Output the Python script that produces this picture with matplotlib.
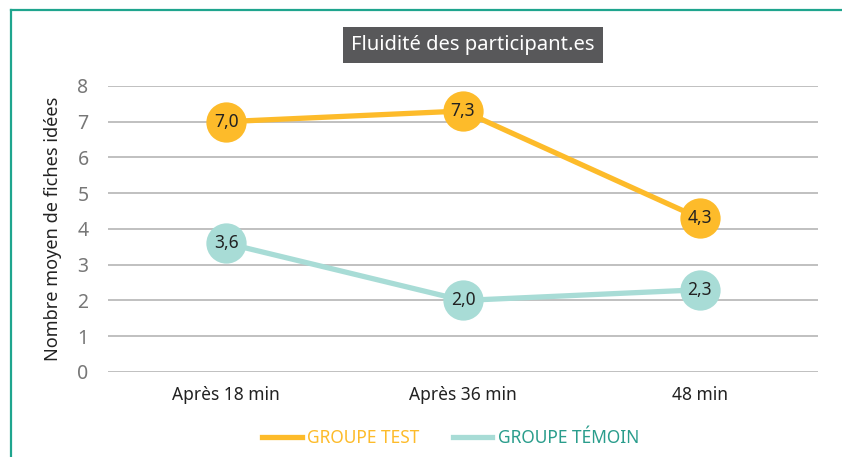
import matplotlib.pyplot as plt
from matplotlib.lines import Line2D

plt.rcParams["font.family"] = ["Noto Sans", "DejaVu Sans"]

# data
periods = ["Après 18 min", "Après 36 min", "48 min"]
groupe_test = [7.0, 7.3, 4.3]
groupe_temoin = [3.6, 2.0, 2.3]
yticks = [0, 1, 2, 3, 4, 5, 6, 7, 8]

ORANGE = "#FDBB2A"
TEAL = "#A8DCD6"
TEAL_TEXT = "#2A9D8C"
FRAME = "#1FA58E"

fig = plt.figure(figsize=(8.42, 4.57), dpi=100)
ax = fig.add_axes([0.1283, 0.186, 0.8432, 0.626])

x = list(range(len(periods)))
for values, color in [(groupe_test, ORANGE), (groupe_temoin, TEAL)]:
    ax.plot(x, values, color=color, lw=3.8, solid_capstyle="butt", zorder=3)
    ax.plot(x, values, "o", color=color, ms=29, mec="none", zorder=4)
    for xi, v in zip(x, values):
        ax.text(xi, v, f"{v:.1f}".replace(".", ","), ha="center", va="center",
                fontsize=12.5, color="#222222", zorder=5)

ax.set_xlim(-0.5, len(periods) - 0.5)
ax.set_ylim(0, 8)
ax.set_yticks(yticks)
ax.set_yticklabels([str(t) for t in yticks], fontsize=14, color="#777777")
ax.set_xticks(x)
ax.set_xticklabels(periods, fontsize=12.5, color="#222222")
ax.tick_params(length=0, axis="y", pad=14)
ax.tick_params(length=0, axis="x", pad=10)
ax.grid(axis="y", color="#BBBBBB", lw=1.3)
ax.set_axisbelow(True)
for s in ax.spines.values():
    s.set_visible(False)
ax.set_ylabel("Nombre moyen de fiches idées", fontsize=13, color="#222222", labelpad=11)

# title in a dark box
fig.text(0.5618, 0.9015, "Fluidité des participant.es", ha="center", va="center",
         fontsize=14.5, color="white",
         bbox=dict(boxstyle="square,pad=0.4", fc="#58585A", ec="none"))

# legend
handles = [Line2D([], [], color=ORANGE, lw=3.8), Line2D([], [], color=TEAL, lw=3.8)]
leg = fig.legend(handles, ["GROUPE TEST", "GROUPE TÉMOIN"], loc="center",
                 bbox_to_anchor=(0.535, 0.041), ncol=2, frameon=False,
                 fontsize=12.5, handlelength=2.3, handletextpad=0.3, columnspacing=1.9)
for txt, c in zip(leg.get_texts(), [ORANGE, TEAL_TEXT]):
    txt.set_color(c)

# green frame on top and left
fig.add_artist(Line2D([10.5 / 842, 1], [1 - 9.5 / 457] * 2, color=FRAME, lw=1.6,
                      transform=fig.transFigure))
fig.add_artist(Line2D([10.5 / 842] * 2, [0, 1 - 9.5 / 457], color=FRAME, lw=1.6,
                      transform=fig.transFigure))

fig.savefig("out.png", dpi=100)
